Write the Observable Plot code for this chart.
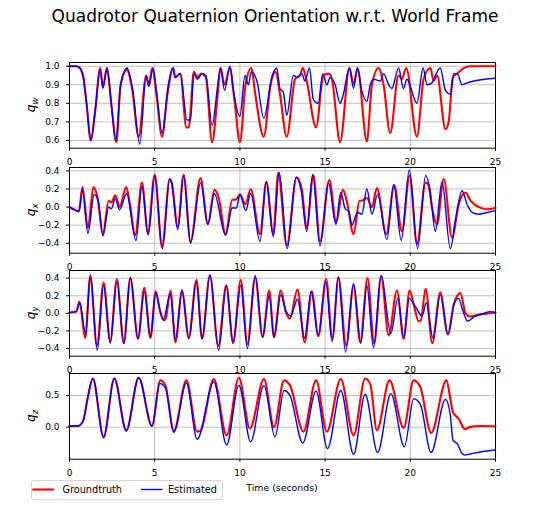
<!DOCTYPE html>
<html>
<head>
<meta charset="utf-8">
<script src="https://cdn.jsdelivr.net/npm/d3@7"></script>
<script src="https://cdn.jsdelivr.net/npm/@observablehq/plot@0.6"></script>
<style>
  html, body { margin: 0; padding: 0; background: #fff; }
  #root { position: relative; width: 550px; height: 516px; font-family: "DejaVu Sans", sans-serif; overflow: hidden; }
  #title { position: absolute; left: 0; top: 6px; width: 550px; text-align: center; font-size: 17px; color: #000; }
  .panel { position: absolute; left: 0; }
  #legend { position: absolute; left: 31px; top: 479.5px; width: 190px; height: 18px; border: 1px solid #d6d6d6; border-radius: 3px; background: #fff; }
  #xlabel { position: absolute; left: 182px; width: 200px; top: 482px; text-align: center; font-size: 9.4px; color: #000; }
</style>
</head>
<body>
<div id="root">
  <div id="title">Quadrotor Quaternion Orientation w.r.t. World Frame</div>
  <div id="legend"></div>
  <div id="xlabel">Time (seconds)</div>
</div>
<script>
// ---- Data (time in seconds, value) ----
const xTicks = [0, 5, 10, 15, 20, 25];
const seriesNames = ["Groundtruth", "Estimated"];
const seriesColors = ["red", "blue"];

const qwTruth = [[0,1.0],[0.4,1.0],[0.55,0.995],[0.8,0.95],[1.0,0.8],[1.25,0.6],[1.5,0.75],[1.8,0.99],[1.96,0.89],[2.2,0.99],[2.45,0.8],[2.75,0.59],[3.0,0.9],[3.37,0.98],[3.67,0.88],[4.06,0.62],[4.5,0.95],[4.65,0.9],[4.86,0.99],[5.1,0.85],[5.43,0.62],[5.75,0.85],[6.08,0.99],[6.2,0.94],[6.5,0.96],[6.86,0.67],[7.0,0.67],[7.3,0.97],[7.5,0.94],[7.75,0.96],[8.0,0.94],[8.37,0.59],[8.65,0.8],[8.86,0.99],[9.1,0.9],[9.41,0.99],[9.7,0.8],[10.0,0.59],[10.33,0.9],[10.67,0.99],[10.9,0.85],[11.4,0.62],[11.8,0.9],[12.1,0.97],[12.35,0.85],[12.75,0.62],[13.24,0.93],[13.53,0.95],[13.69,0.99],[13.92,0.92],[14.47,0.67],[14.9,0.95],[15.2,0.96],[15.4,0.93],[15.88,0.59],[16.43,0.99],[16.67,0.9],[16.9,0.99],[17.45,0.595],[17.75,0.9],[18.14,0.99],[18.43,0.9],[18.82,0.64],[19.31,0.95],[19.5,0.93],[19.76,0.99],[20.39,0.62],[20.78,0.93],[21.18,0.99],[21.37,0.92],[21.57,0.95],[22.06,0.66],[22.25,0.7],[22.5,0.94],[22.75,0.96],[23.14,0.99],[23.53,1.0],[25,1.0]];
const qwEst = [[0,1.0],[0.4,1.0],[0.6,0.99],[0.8,0.94],[1.0,0.8],[1.25,0.6],[1.5,0.76],[1.8,0.98],[1.96,0.88],[2.2,0.99],[2.45,0.8],[2.72,0.6],[3.0,0.9],[3.37,0.99],[3.7,0.88],[4.12,0.58],[4.5,0.95],[4.65,0.89],[4.9,0.99],[5.1,0.87],[5.43,0.64],[5.8,0.9],[6.08,0.99],[6.2,0.94],[6.5,0.96],[6.9,0.71],[7.1,0.71],[7.3,0.96],[7.5,0.93],[7.8,0.96],[8.0,0.95],[8.37,0.68],[8.7,0.9],[8.86,0.99],[9.1,0.87],[9.41,1.0],[9.6,0.88],[10.0,0.73],[10.3,0.95],[10.5,0.9],[10.67,0.97],[11.0,0.92],[11.4,0.72],[11.9,0.95],[12.16,0.99],[12.35,0.88],[12.55,0.86],[12.75,0.735],[13.14,0.95],[13.35,0.94],[13.63,0.96],[13.82,0.92],[14.08,0.99],[14.31,0.82],[14.6,0.8],[14.86,0.96],[15.1,0.9],[15.3,0.94],[15.59,0.9],[15.88,0.8],[16.05,0.84],[16.43,0.99],[16.67,0.88],[16.9,0.99],[17.15,0.87],[17.45,0.81],[17.65,0.9],[17.84,0.93],[18.24,0.92],[18.43,0.96],[18.73,0.9],[18.92,0.88],[19.31,0.99],[19.6,0.88],[19.8,0.93],[20.39,0.8],[20.75,0.99],[20.98,0.9],[21.27,0.91],[21.47,0.95],[21.76,0.99],[22.06,0.87],[22.35,0.85],[22.55,0.96],[22.75,0.96],[23.04,0.9],[23.33,0.91],[23.73,0.92],[25,0.935]];

const qxTruth = [[0,0],[0.3,-0.03],[0.55,-0.05],[0.76,0.22],[1.08,-0.23],[1.41,0.22],[1.65,0.1],[1.96,-0.3],[2.3,0.07],[2.45,0.05],[2.69,0.13],[2.94,0.0],[3.33,0.22],[3.53,0.05],[3.86,-0.31],[4.25,0.27],[4.6,-0.29],[5.0,0.36],[5.43,-0.44],[5.88,0.31],[6.0,0.27],[6.35,-0.22],[6.7,0.36],[7.1,-0.38],[7.69,0.32],[8.12,-0.19],[8.51,0.19],[8.76,0.1],[9.16,-0.3],[9.55,0.08],[9.75,0.08],[9.88,0.11],[10.0,0.14],[10.33,0.03],[10.63,0.2],[11.18,-0.3],[11.55,0.28],[11.96,-0.3],[12.25,0.38],[12.75,-0.43],[13.33,0.33],[13.63,0.2],[13.92,-0.23],[14.31,0.35],[14.7,-0.38],[15.25,0.3],[15.65,-0.17],[16.04,0.19],[16.27,0.07],[16.67,-0.3],[17.02,0.07],[17.15,0.07],[17.45,0.1],[17.75,0.0],[18.04,0.21],[18.59,-0.3],[19.06,0.24],[19.51,-0.27],[19.96,0.35],[20.39,-0.41],[20.9,0.27],[21.05,0.25],[21.27,0.0],[21.57,-0.19],[21.96,0.31],[22.45,-0.34],[22.84,0.03],[23.24,0.16],[23.53,0.07],[23.92,0.01],[24.5,-0.025],[25,-0.01]];
const qxEst = [[0,0],[0.3,-0.03],[0.55,-0.05],[0.76,0.19],[1.08,-0.29],[1.45,0.14],[1.7,0.05],[1.96,-0.32],[2.3,0.0],[2.45,-0.02],[2.69,0.09],[2.94,-0.03],[3.35,0.15],[3.9,-0.37],[4.25,0.23],[4.62,-0.31],[5.0,0.34],[5.45,-0.46],[5.88,0.31],[6.0,0.26],[6.35,-0.25],[6.7,0.34],[7.1,-0.4],[7.7,0.27],[8.12,-0.19],[8.5,0.15],[9.16,-0.31],[9.55,-0.01],[9.8,-0.01],[10.0,0.14],[10.35,-0.04],[10.63,0.15],[11.18,-0.38],[11.55,0.28],[11.96,-0.33],[12.31,0.38],[12.78,-0.46],[13.29,0.33],[13.6,0.18],[13.92,-0.27],[14.27,0.36],[14.7,-0.43],[15.2,0.27],[15.63,-0.19],[15.92,0.16],[16.18,-0.02],[16.4,-0.05],[16.57,-0.2],[16.9,-0.06],[17.16,-0.08],[17.45,0.2],[17.75,-0.08],[18.08,0.14],[18.63,-0.36],[19.02,0.25],[19.47,-0.37],[19.94,0.41],[20.43,-0.46],[20.9,0.35],[21.15,0.2],[21.47,-0.27],[21.86,0.28],[22.35,-0.46],[22.65,-0.14],[23.04,0.18],[23.33,0.03],[23.63,-0.06],[24.02,-0.08],[24.5,-0.06],[25,-0.04]];

const qyTruth = [[0,0.01],[0.4,0.02],[0.59,0.135],[0.92,-0.28],[1.22,0.42],[1.61,-0.37],[2.0,0.35],[2.39,-0.32],[2.78,0.39],[3.18,-0.34],[3.57,0.4],[4.02,-0.29],[4.39,0.29],[4.75,-0.28],[5.06,0.25],[5.3,0.04],[5.53,-0.08],[5.65,-0.06],[5.92,0.26],[6.22,-0.33],[6.6,0.25],[7.0,-0.28],[7.45,0.38],[7.78,-0.29],[8.24,0.43],[8.73,-0.37],[9.2,0.32],[9.6,-0.34],[10.05,0.38],[10.44,-0.35],[10.9,0.41],[11.33,-0.27],[11.72,0.26],[12.0,-0.27],[12.4,0.26],[12.7,0.01],[12.93,-0.06],[13.38,0.27],[13.8,-0.33],[14.22,0.25],[14.6,-0.26],[15.06,0.39],[15.43,-0.29],[15.78,0.41],[16.24,-0.37],[16.67,0.32],[17.06,-0.33],[17.49,0.4],[17.88,-0.34],[18.29,0.42],[18.73,-0.25],[19.22,0.26],[19.61,-0.29],[19.96,0.26],[20.2,0.1],[20.49,-0.09],[20.62,-0.08],[20.9,0.28],[21.29,-0.34],[21.76,0.24],[22.2,-0.24],[22.55,0.1],[22.94,0.23],[23.24,0.0],[23.49,-0.035],[23.92,-0.02],[25,0.01]];
const qyEst = [[0,0.01],[0.4,0.02],[0.59,0.12],[0.95,-0.23],[1.22,0.44],[1.63,-0.42],[2.0,0.32],[2.39,-0.34],[2.78,0.36],[3.2,-0.34],[3.57,0.41],[4.02,-0.29],[4.39,0.25],[4.75,-0.27],[5.06,0.24],[5.3,0.04],[5.5,-0.07],[5.92,0.22],[6.22,-0.3],[6.6,0.27],[7.0,-0.29],[7.45,0.36],[7.78,-0.29],[8.24,0.44],[8.75,-0.42],[9.2,0.31],[9.6,-0.32],[10.05,0.32],[10.44,-0.4],[10.9,0.43],[11.33,-0.27],[11.72,0.2],[12.0,-0.27],[12.4,0.21],[12.7,0.03],[12.98,-0.03],[13.38,0.16],[13.8,-0.28],[14.18,0.25],[14.6,-0.25],[15.04,0.36],[15.41,-0.32],[15.78,0.41],[16.2,-0.44],[16.67,0.34],[17.1,-0.34],[17.45,0.32],[17.84,-0.39],[18.29,0.43],[18.86,-0.23],[19.27,0.17],[19.61,-0.27],[19.94,0.17],[20.29,0.08],[20.69,-0.03],[20.94,0.12],[21.33,-0.28],[21.76,0.21],[22.22,-0.24],[22.59,0.12],[22.84,0.17],[23.05,0.05],[23.37,-0.09],[23.73,-0.04],[24.31,0.0],[24.7,0.02],[25,0.01]];

const qzTruth = [[0,0.02],[0.5,0.02],[0.8,0.1],[1.06,0.45],[1.37,0.77],[2.0,-0.15],[2.63,0.77],[3.33,-0.05],[4.06,0.78],[4.84,0.02],[5.33,0.74],[5.63,0.66],[6.12,-0.06],[6.86,0.74],[7.49,-0.07],[7.7,-0.05],[8.47,0.76],[9.22,-0.13],[9.94,0.78],[10.59,-0.02],[11.41,0.76],[12.0,0.0],[12.59,0.74],[12.94,0.66],[13.73,-0.07],[14.47,0.74],[15.1,-0.07],[15.92,0.76],[16.67,-0.13],[17.35,0.77],[17.65,0.68],[18.04,-0.05],[18.78,0.74],[19.61,-0.01],[20.2,0.74],[20.59,0.63],[21.22,-0.09],[22.12,0.74],[22.35,0.45],[22.5,0.24],[22.85,0.13],[23.2,-0.03],[23.53,0.005],[24.12,0.02],[25,0.016]];
const qzEst = [[0,0.02],[0.5,0.02],[0.8,0.1],[1.06,0.45],[1.37,0.77],[2.0,-0.17],[2.63,0.77],[3.33,-0.06],[4.06,0.78],[4.84,0.02],[5.3,0.69],[5.63,0.62],[6.12,-0.08],[6.86,0.7],[7.49,-0.19],[8.47,0.72],[9.22,-0.28],[9.94,0.66],[10.63,-0.23],[11.41,0.66],[12.06,-0.15],[12.59,0.58],[12.94,0.5],[13.69,-0.25],[14.47,0.57],[15.14,-0.34],[15.92,0.58],[16.67,-0.43],[17.35,0.52],[18.08,-0.4],[18.86,0.53],[19.65,-0.31],[20.2,0.45],[20.59,0.36],[21.22,-0.4],[22.06,0.44],[22.35,0.19],[22.5,-0.2],[22.75,-0.26],[23.05,-0.42],[23.2,-0.44],[23.4,-0.43],[23.73,-0.41],[25,-0.36]];

const panels = [
  { sub: "w", truth: qwTruth, est: qwEst, domain: [0.558, 1.02], ticks: [0.6, 0.7, 0.8, 0.9, 1.0], top: 62.3 },
  { sub: "x", truth: qxTruth, est: qxEst, domain: [-0.51, 0.437], ticks: [-0.4, -0.2, 0.0, 0.2, 0.4], top: 166.6 },
  { sub: "y", truth: qyTruth, est: qyEst, domain: [-0.487, 0.487], ticks: [-0.4, -0.2, 0.0, 0.2, 0.4], top: 269.6 },
  { sub: "z", truth: qzTruth, est: qzEst, domain: [-0.505, 0.848], ticks: [0.0, 0.5], top: 373.3 }
];

const root = document.getElementById("root");
const MT = 4, FH = 85.7, MB = 20.3;
const fmt = d3.format(".1f");

panels.forEach(p => {
  const svg = Plot.plot({
    width: 550,
    height: MT + FH + MB,
    marginLeft: 69,
    marginRight: 55,
    marginTop: MT,
    marginBottom: MB,
    style: { fontFamily: "DejaVu Sans, sans-serif", fontSize: "9px", color: "#000", background: "transparent", overflow: "visible" },
    x: { domain: [0, 25] },
    y: { domain: p.domain },
    marks: [
      Plot.gridX(xTicks, { stroke: "#b0b0b0", strokeOpacity: 1, strokeWidth: 0.8 }),
      Plot.gridY(p.ticks, { stroke: "#b0b0b0", strokeOpacity: 1, strokeWidth: 0.8 }),
      Plot.line(p.truth, { x: d => d[0], y: d => d[1], stroke: seriesColors[0], strokeWidth: 2.1, curve: "monotone-x" }),
      Plot.line(p.est, { x: d => d[0], y: d => d[1], stroke: seriesColors[1], strokeWidth: 1.4, curve: "monotone-x" }),
      Plot.frame({ stroke: "#000", strokeWidth: 1 }),
      Plot.axisX(xTicks, { tickSize: 3, tickPadding: 7.3, label: null, tickFormat: d3.format("d") }),
      Plot.axisY(p.ticks, { tickSize: 3, tickPadding: 7, label: null, tickFormat: fmt })
    ]
  });
  svg.classList.add("panel");
  svg.style.top = (p.top - MT) + "px";
  // y-axis label q_sub (italic, with subscript)
  const mid = MT + FH / 2;
  const t = d3.select(svg).append("text")
    .attr("transform", `translate(35,${mid}) rotate(-90)`)
    .attr("text-anchor", "middle")
    .attr("font-family", "DejaVu Sans, sans-serif")
    .attr("font-size", 12)
    .attr("font-style", "italic")
    .attr("fill", "#000");
  t.append("tspan").text("q");
  t.append("tspan").attr("font-size", 8.5).attr("dy", "0.3em").text(p.sub);
  root.appendChild(svg);
});

// Legend
const leg = d3.select("#legend").append("svg").attr("width", 190).attr("height", 18)
  .style("font-family", "DejaVu Sans, sans-serif").style("font-size", "9.7px");
const legX = [[0.5, 30.5], [109, 136]];
seriesNames.forEach((name, i) => {
  const [lx, tx] = legX[i];
  leg.append("line").attr("x1", lx).attr("x2", lx + 21.5).attr("y1", 8.5).attr("y2", 8.5)
    .attr("stroke", seriesColors[i]).attr("stroke-width", i === 0 ? 2.1 : 1.4);
  leg.append("text").attr("x", tx).attr("y", 8.5).attr("dy", "0.35em").attr("fill", "#000").text(name);
});
</script>
</body>
</html>
